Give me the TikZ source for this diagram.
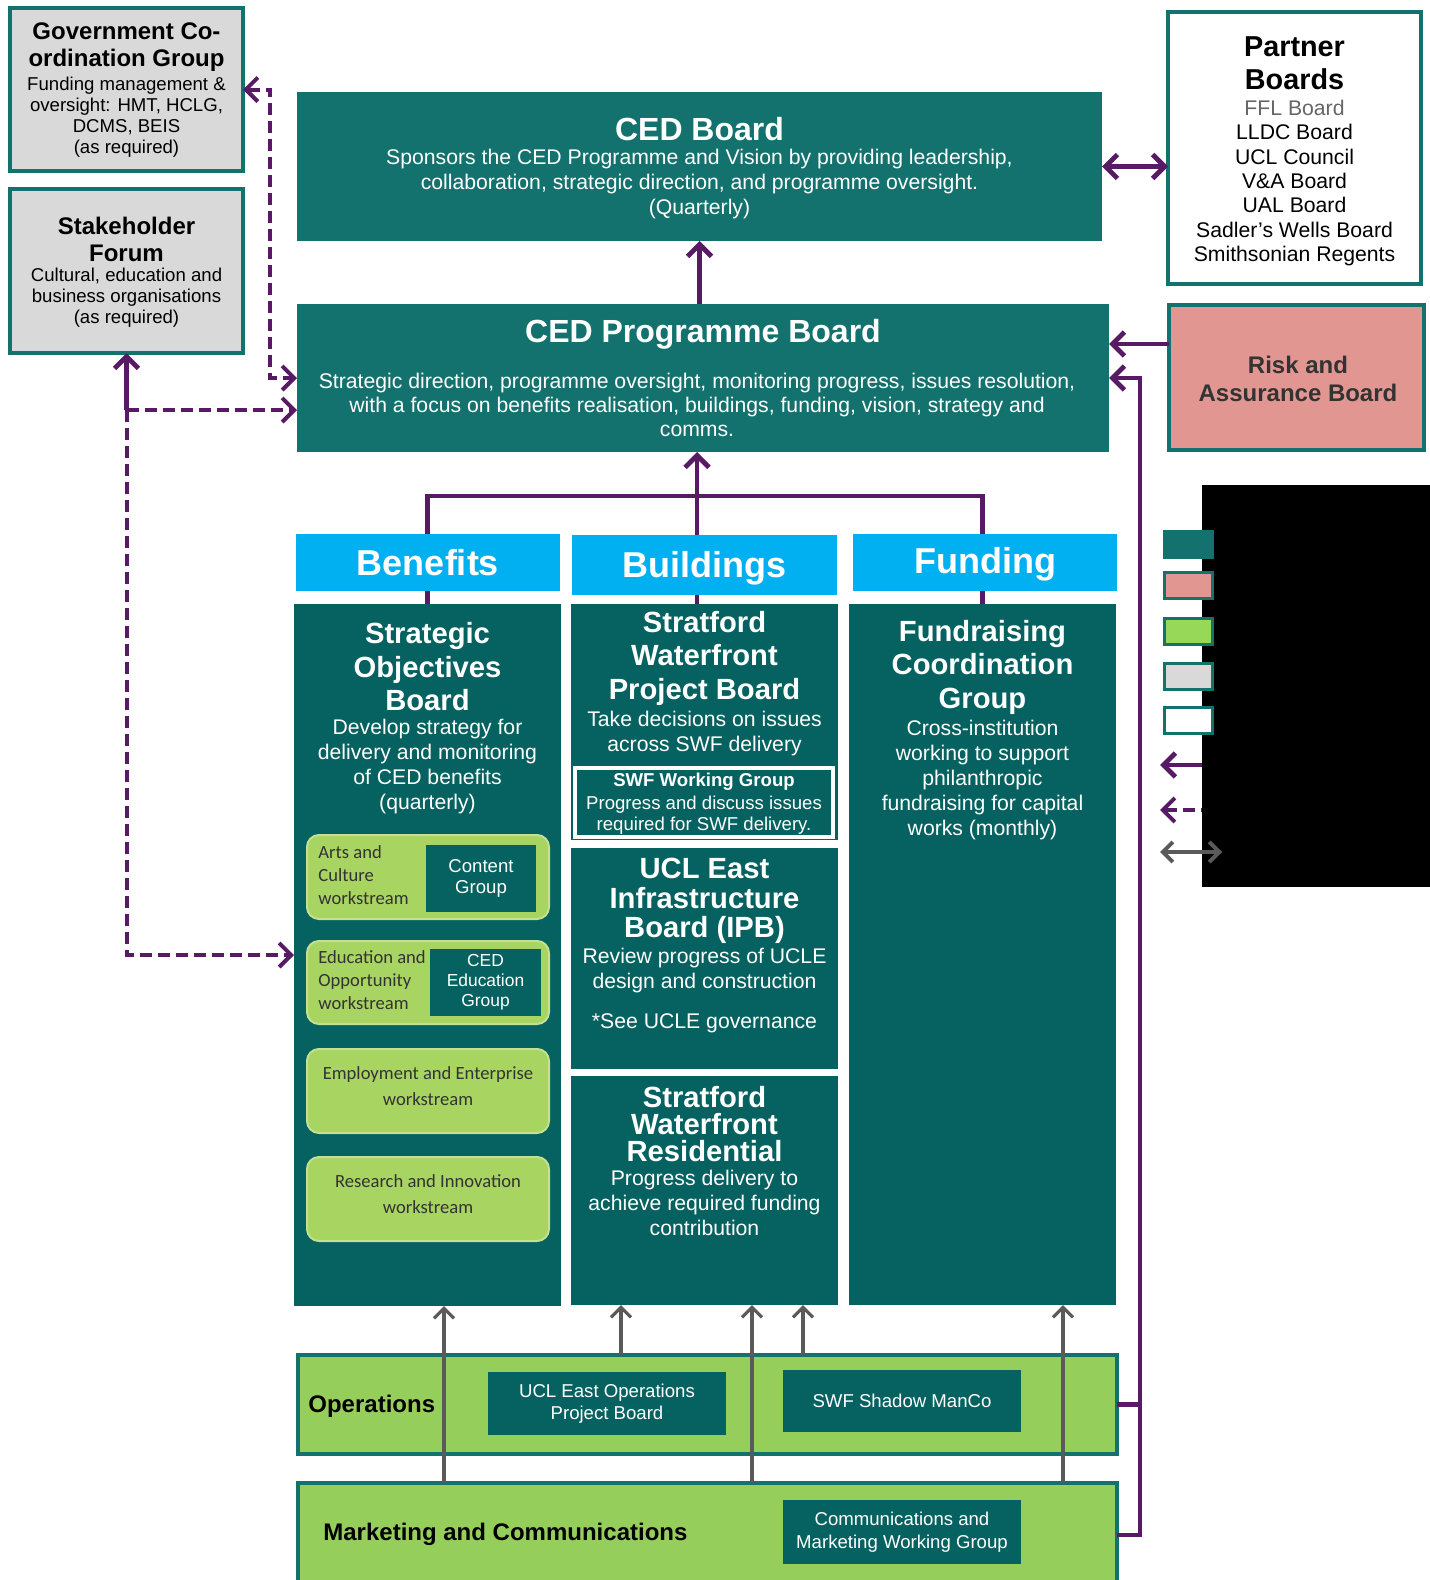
\documentclass[tikz,border=0pt]{standalone}
\usepackage{fontspec}
\setmainfont{Liberation Sans}
\newfontfamily\calfont{Carlito}
\usetikzlibrary{arrows.meta,fit,positioning}

\definecolor{cedteal}{RGB}{20,114,110}
\definecolor{colteal}{RGB}{6,98,96}
\definecolor{hdrblue}{RGB}{0,176,240}
\definecolor{opsgreen}{RGB}{150,206,92}
\definecolor{wsgreen}{RGB}{168,212,98}
\definecolor{boxgrey}{RGB}{217,217,217}
\definecolor{riskpink}{RGB}{226,150,146}
\definecolor{linkpurple}{RGB}{88,26,100}
\definecolor{linkgrey}{RGB}{90,90,90}

\newcommand{\fs}[2]{\fontsize{#1}{#2}\selectfont}

\begin{document}
\begin{tikzpicture}[x=0.5pt,y=-0.5pt,>={Straight Barb[length=6pt,width=12pt]},
  every fit/.style={inner sep=0pt,outer sep=0pt},
  tealbox/.style={fill=cedteal},
  colbox/.style={fill=colteal},
  hdrbox/.style={fill=hdrblue},
  hdrtxt/.style={lbl,text=white,font=\bfseries\fs{18}{20}},
  greybox/.style={fill=boxgrey,draw=cedteal,line width=2pt},
  partbox/.style={fill=white,draw=cedteal,line width=2pt},
  riskbox/.style={fill=riskpink,draw=cedteal,line width=2pt},
  risktxt/.style={lbl,text=black!80,font=\bfseries\fs{12}{14}},
  wsbox/.style={fill=wsgreen,draw=wsgreen!70!white,line width=1pt,rounded corners=6pt},
  wstxt/.style={lbl,text=black!80,font=\calfont\fs{9.3}{13}},
  greenband/.style={fill=opsgreen,draw=cedteal,line width=1.6pt},
  subbox/.style={fill=colteal},
  subtxt/.style={lbl,text=white,font=\fs{9.3}{11.3}},
  keybox/.style={draw=cedteal,line width=1.5pt},
  lbl/.style={inner sep=0pt,align=center},
  bigttl/.style={lbl,text=white,font=\bfseries\fs{16}{18}},
  colttl/.style={lbl,text=white,font=\bfseries\fs{14.6}{16.75}},
  colbdy/.style={lbl,text=white,font=\fs{10.6}{12.5}},
  greyttl/.style={lbl,font=\bfseries\fs{12}{13.5}},
  greybdy/.style={lbl,font=\fs{9.3}{10.5}},
  link/.style={draw=linkpurple,line width=2.4pt},
  dlink/.style={link,line width=2pt,dash pattern=on 6pt off 3pt},
  glink/.style={draw=linkgrey,line width=1.6pt,>={Straight Barb[length=5pt,width=10pt]}}]

\useasboundingbox (0,0) rectangle (1430,1580);

% top boards
\node[greybox,fit={(10,8) (243,171)}] (gov) {};
\node[greyttl] (govttl) at (126.5,47) {Government Co-\\ordination Group};
\node[greybdy] (govbdy) at (126.5,117) {Funding management \&\\oversight: HMT, HCLG,\\DCMS, BEIS\\(as required)};
\node[greybox,fit={(10,189) (243,353)}] (stake) {};
\node[greyttl] (stakettl) at (126.5,239) {Stakeholder\\Forum};
\node[greybdy] (stakebdy) at (126.5,298) {Cultural, education and\\business organisations\\(as required)};

\node[tealbox,fit={(297,92) (1102,241)}] (ced) {};
\node[bigttl] (cedttl) at (699.5,129) {CED Board};
\node[colbdy] (cedbdy) at (699.5,184) {Sponsors the CED Programme and Vision by providing leadership,\\collaboration, strategic direction, and programme oversight.\\(Quarterly)};
\node[tealbox,fit={(297,304) (1109,452)}] (prog) {};
\node[bigttl] (progttl) at (703,334) {CED Programme Board};
\node[colbdy,font=\fs{10.6}{12.2}] (progbdy) at (697,405) {Strategic direction, programme oversight, monitoring progress, issues resolution,\\with a focus on benefits realisation, buildings, funding, vision, strategy and\\comms.};

\node[partbox,fit={(1168,12) (1421,284)}] (partner) {};
\node[lbl,font=\bfseries\fs{14.4}{16.6}] (partttl) at (1294.5,63) {Partner\\Boards};
\node[lbl,font=\fs{10.6}{12.2}] (partbdy) at (1294.5,183) {\textcolor{black!60}{FFL Board}\\LLDC Board\\UCL Council\\V\&A Board\\UAL Board\\Sadler’s Wells Board\\Smithsonian Regents};
\node[riskbox,fit={(1169,305) (1424,450)}] (risk) {};
\node[risktxt] at (1298,379) {Risk and\\Assurance Board};

% key (partly hidden)
\fill[black] (1202,485) rectangle (1430,887);
\foreach \ky/\kfill in {531/cedteal,572/riskpink,618/wsgreen!90!green,663/boxgrey,707/white}
  \node[keybox,fill=\kfill,fit={(1164,\ky) (1212,\ky+26)}] {};
\coordinate (keya) at (1202,765);
\coordinate (keyb) at (1202,810);
\coordinate (keyc) at (1222,852);
\draw[link,<-] ([xshift=-21pt]keya) -- (keya);
\draw[dlink,<-] ([xshift=-21pt]keyb) -- (keyb);
\draw[glink,<->,line width=2pt] ([xshift=-31pt]keyc) -- (keyc);

% columns
\node[colbox,fit={(294,604) (561,1306)}] (ben) {};
\node[colttl] (benttl) at (427.5,667) {Strategic\\Objectives\\Board};
\node[colbdy] (benbdy) at (427.5,767) {Develop strategy for\\delivery and monitoring\\of CED benefits\\(quarterly)};
\node[colbox,fit={(571,604) (838,840)}] (swfpb) {};
\node[colttl] (swfttl) at (704.5,658) {Stratford\\Waterfront\\Project Board};
\node[colbdy] (swfbdy) at (704.5,733.5) {Take decisions on issues\\across SWF delivery};
\node[colbox,draw=white,line width=1.6pt,fit={(575,768) (833,837)}] (swfwg) {};
\node[lbl,text=white,font=\bfseries\fs{9.3}{10.5}] (wgttl) at (704,782) {SWF Working Group};
\node[lbl,text=white,font=\fs{9.3}{10.5}] (wgbdy) at (704,815) {Progress and discuss issues\\required for SWF delivery.};
\node[colbox,fit={(571,848) (838,1069)}] (ipb) {};
\node[colttl,font=\bfseries\fs{14.6}{14.75}] (ipbttl) at (704.5,901) {UCL East\\Infrastructure\\Board (IPB)};
\node[colbdy] (ipbbdy) at (704.5,971) {Review progress of UCLE\\design and construction};
\node[colbdy] (ipbsee) at (704.5,1023) {*See UCLE governance};
\node[colbox,fit={(571,1076) (838,1305)}] (res) {};
\node[colttl,font=\bfseries\fs{14.6}{13.5}] (resttl) at (704.5,1124) {Stratford\\Waterfront\\Residential};
\node[colbdy] (resbdy) at (704.5,1203) {Progress delivery to\\achieve required funding\\contribution};
\node[colbox,fit={(849,604) (1116,1305)}] (fund) {};
\node[colttl] (fundttl) at (982.5,667) {Fundraising\\Coordination\\Group};
\node[colbdy] (fundbdy) at (982.5,780) {Cross-institution\\working to support\\philanthropic\\fundraising for capital\\works (monthly)};

% theme lines to the programme board
\draw[link,line join=miter] (ben.north) -- (ben.north |- 0,496) -| (fund.north);
\draw[link,->] (swfpb.north -| 697,0) -- (prog.south -| 697,0);
\node[hdrbox,fit={(296,534) (560,591)}] (hben) {};
\node[hdrtxt] at (hben) {Benefits};
\node[hdrbox,fit={(572,535) (837,595)}] (hbld) {};
\node[hdrtxt] at ([yshift=-1.5pt]hbld) {Buildings};
\node[hdrbox,fit={(853,534) (1117,591)}] (hfund) {};
\node[hdrtxt] at ([yshift=-1pt]hfund) {Funding};

% workstreams
\node[wsbox,fit={(307,835) (549,919)}] (arts) {};
\node[lbl,align=left,anchor=west,text=black!80,font=\calfont\fs{9.3}{11.5}] (artstxt) at (318,875) {Arts and\\Culture\\workstream};
\node[subbox,fit={(426,845) (536,912)}] (contentg) {};
\node[subtxt,font=\fs{9.3}{10.5}] at (contentg) {Content\\Group};
\node[wsbox,fit={(307,941) (549,1024)}] (edu) {};
\node[lbl,align=left,anchor=west,text=black!80,font=\calfont\fs{9.3}{11.5}] (edutxt) at (318,980) {Education and\\Opportunity\\workstream};
\node[subbox,fit={(430,949) (541,1016)}] (cedg) {};
\node[subtxt,font=\fs{8.7}{10}] at (cedg) {CED\\Education\\Group};
\node[wsbox,fit={(307,1049) (549,1133)}] (emp) {};
\node[wstxt] at ([yshift=2.5pt]emp) {Employment and Enterprise\\workstream};
\node[wsbox,fit={(307,1157) (549,1241)}] (rni) {};
\node[wstxt] at ([yshift=2.5pt]rni) {Research and Innovation\\workstream};

% operations and marketing
\node[greenband,fit={(298,1355) (1117,1454)}] (ops) {};
\node[lbl,anchor=west,font=\bfseries\fs{12}{14}] (opstxt) at (308,1406) {Operations};
\node[greenband,fit={(298,1483) (1117,1587)}] (mkt) {};
\node[lbl,anchor=west,font=\bfseries\fs{12}{14}] (mkttxt) at (323,1534) {Marketing and Communications};
\foreach \gx/\gsrc/\gdst in {444/mkt/ben,752/mkt/res,1063/mkt/fund,621/ops/res,803/ops/res}
  \draw[glink,->] (\gsrc.north -| \gx,0) -- (\gdst.south -| \gx,0);
\node[subbox,fit={(488,1372) (726,1435)}] (uclops) {};
\node[subtxt] at (uclops) {UCL East Operations\\Project Board};
\node[subbox,fit={(783,1370) (1021,1432)}] (manco) {};
\node[subtxt] at (manco) {SWF Shadow ManCo};
\node[subbox,fit={(783,1500) (1021,1564)}] (comms) {};
\node[subtxt] at (comms) {Communications and\\Marketing Working Group};

% purple links
\draw[link,->] (prog.north -| ced.south) -- (ced.south);
\draw[link,<->] (ced.east) -- (ced.east -| partner.west);
\draw[link,->] (risk.west |- 0,344) -- (prog.east |- 0,344);
\coordinate (rbus) at (1140,378);
\draw[link,->] (mkt.east) -| (rbus) -- (prog.east |- rbus);
\draw[link] (ops.east) -- (ops.east -| rbus);
\coordinate (gbus) at (270,378);
\draw[dlink,<->] (gov.east) -| (gbus) -- (prog.west);
\coordinate (sbus) at (126.5,410);
\draw[link,->] (sbus) -- (stake.south);
\draw[dlink,->] (sbus) -- (sbus -| prog.west);
\draw[dlink,->] (sbus) |- (ben.west);
\end{tikzpicture}
\end{document}
